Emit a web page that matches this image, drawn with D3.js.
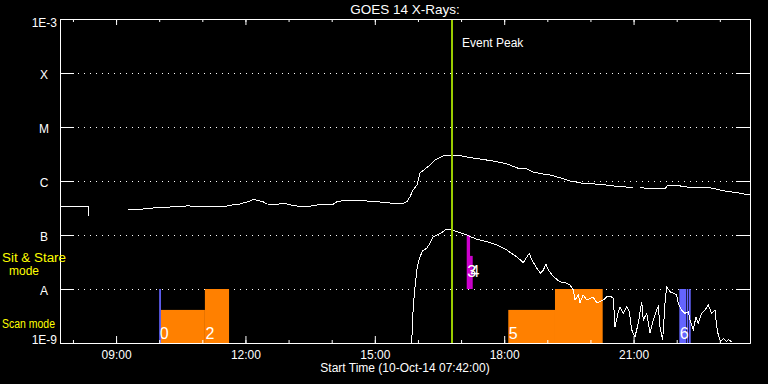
<!DOCTYPE html>
<html>
<head>
<meta charset="utf-8">
<script src="https://cdn.jsdelivr.net/npm/d3@7"></script>
<style>
body { margin: 0; background: #000; }
text { font-family: "Liberation Sans", Arial, sans-serif; fill: #fff; }
</style>
</head>
<body>
<div id="chart"></div>
<script>
// GOES 14 X-ray flux, 10-Oct-2014, hours UT
var levelValues = [1e-9, 1e-8, 1e-7, 1e-6, 1e-5, 1e-4, 1e-3];
var levelLabels = ["1E-9", "A", "B", "C", "M", "X", "1E-3"];

// long channel (1-8 A), null = data gap
var longHours = [7.700, 8.117, 8.349, 8.372, 8.80, 9.277, 9.625, 9.741, 10.251, 10.622, 10.668, 10.738,
  11.178, 11.526, 11.688, 11.874, 12.106, 12.175, 12.407, 12.500, 12.755, 12.848, 12.964, 13.103,
  13.428, 13.660, 14.031, 14.124, 14.309, 14.726, 14.819, 15.190, 15.422, 15.654, 15.746, 15.816,
  15.885, 15.978, 16.048, 16.280, 16.396, 16.581, 16.674, 16.906, 17.138, 17.439, 17.741, 18.065,
  18.367, 18.529, 18.668, 18.900, 19.062, 19.294, 19.526, 19.827, 20.222, 20.685, 20.987, 21.07,
  21.149, 21.451, 21.729, 21.798, 22.007, 22.146, 22.471, 22.772, 23.074, 23.398, 23.700];
var longFlux = [3.44e-7, 3.44e-7, 3.44e-7, 2.25e-7, null, 2.90e-7, 3.03e-7, 3.12e-7, 3.30e-7, 3.44e-7, 3.60e-7, 3.37e-7,
  3.30e-7, 3.37e-7, 3.60e-7, 3.75e-7, 4.26e-7, 4.58e-7, 4.14e-7, 3.75e-7, 3.71e-7, 3.86e-7, 3.75e-7, 3.49e-7,
  3.34e-7, 3.60e-7, 3.71e-7, 4.14e-7, 4.39e-7, 4.39e-7, 4.26e-7, 4.04e-7, 3.86e-7, 3.86e-7, 4.14e-7, 5.12e-7,
  6.81e-7, 8.43e-7, 1.41e-6, 1.98e-6, 2.45e-6, 2.90e-6, 3.03e-6, 3.03e-6, 2.78e-6, 2.55e-6, 2.35e-6, 2.07e-6,
  1.67e-6, 1.67e-6, 1.47e-6, 1.35e-6, 1.29e-6, 1.15e-6, 1.00e-6, 9.06e-7, 8.69e-7, 7.83e-7, 7.64e-7, null,
  7.52e-7, 7.20e-7, 7.11e-7, 8.43e-7, 8.43e-7, 7.83e-7, 7.52e-7, 7.52e-7, 6.61e-7, 6.07e-7, 5.51e-7];

// short channel (0.5-4 A)
var shortHours = [15.855, 15.892, 15.932, 15.985, 16.048, 16.110, 16.203, 16.280, 16.356, 16.435, 16.551, 16.651,
  16.743, 16.859, 16.975, 17.131, 17.362, 17.594, 17.826, 18.058, 18.290, 18.443, 18.505, 18.582,
  18.638, 18.754, 18.847, 18.907, 18.969, 19.023, 19.139, 19.294, 19.450, 19.526, 19.603, 19.642,
  19.719, 19.758, 19.828, 19.920, 20.059, 20.152, 20.298, 20.377, 20.454, 20.530, 20.570, 20.646,
  20.686, 20.762, 20.841, 20.901, 20.957, 21.033, 21.110, 21.189, 21.226, 21.305, 21.381, 21.458,
  21.536, 21.573, 21.613, 21.675, 21.729, 21.768, 21.845, 21.921, 22.000, 22.037, 22.116, 22.192,
  22.269, 22.309, 22.385, 22.448, 22.501, 22.580, 22.656, 22.733, 22.812, 22.888, 22.928, 22.965,
  23.021, 23.081, 23.160, 23.197, 23.275];
var shortFlux = [1.0e-9, 4.70e-9, 1.10e-8, 2.59e-8, 3.96e-8, 5.12e-8, 5.67e-8, 7.02e-8, 9.30e-8, 1.0e-7, 1.10e-7, 1.28e-7,
  1.28e-7, 1.19e-7, 1.10e-7, 1.0e-7, 8.32e-8, 7.52e-8, 6.53e-8, 5.27e-8, 3.96e-8, 3.07e-8, 3.71e-8, 4.58e-8,
  3.55e-8, 2.42e-8, 1.95e-8, 2.25e-8, 2.86e-8, 2.25e-8, 1.69e-8, 1.36e-8, 1.28e-8, 1.19e-8, 9.57e-9, 6.25e-9,
  7.74e-9, 5.51e-9, 7.74e-9, 6.25e-9, 7.11e-9, 5.51e-9, 6.25e-9, 7.20e-9, 7.41e-9, 6.73e-9, 2.00e-9, 3.80e-9,
  4.70e-9, 3.55e-9, 4.70e-9, 3.80e-9, 1.74e-9, 1.31e-9, 2.32e-9, 5.82e-9, 2.67e-9, 3.55e-9, 1.51e-9, 2.67e-9,
  4.08e-9, 4.70e-9, 2.00e-9, 1.14e-9, 5.43e-9, 1.10e-8, 8.91e-9, 8.32e-9, 7.74e-9, 5.43e-9, 4.08e-9, 3.55e-9,
  3.80e-9, 2.67e-9, 1.74e-9, 3.07e-9, 2.32e-9, 3.55e-9, 4.08e-9, 5.06e-9, 3.55e-9, 4.08e-9, 2.00e-9, 1.41e-9,
  1.06e-9, 1.22e-9, 1.06e-9, 1.15e-9, 1.06e-9];

// observing modes
var scanStart = [10.04, 11.06, 18.095, 19.178];
var scanEnd = [11.06, 11.62, 19.178, 20.284];
var scanTop = [4.1e-9, 1e-8, 4.1e-9, 1e-8];
var stareStart = [17.131, 17.208];
var stareEnd = [17.208, 17.270];
var stareTop = [1e-7, 4.1e-8];
var markStart = [10.00, 22.061, 22.232, 22.285];
var markEnd = [10.04, 22.216, 22.269, 22.325];
var segNames = ["0", "2", "3", "4", "5", "6"];
var segHours = [10.00, 11.06, 17.131, 17.208, 18.095, 22.061];
var segBand = ["scan", "scan", "stare", "stare", "scan", "scan"];

var peakHour = 16.79;
var startHour = 7.70, endHour = 23.70;

var svgWidth = 768;
var svgHeight = 384;
var margin = {top: 19, right: 18, bottom: 41, left: 60};
var width = svgWidth - margin.left - margin.right;
var height = svgHeight - margin.top - margin.bottom;

function toDate(h) {
  return new Date(Date.UTC(2014, 9, 10) + h * 3600e3);
}

var root = d3.select("#chart").append("svg")
  .attr("width", svgWidth)
  .attr("height", svgHeight)
  .style("background", "#000");
var svg = root.append("g")
  .attr("transform", "translate(" + margin.left + "," + margin.top + ")");

var x = d3.scaleUtc().domain([toDate(startHour), toDate(endHour)]).range([0, width]);
var y = d3.scaleLog().domain([1e-9, 1e-3]).range([height, 0]);

// dotted level lines
svg.selectAll(".grid")
  .data(levelValues.slice(1, 6))
  .enter().append("line")
  .attr("x1", 18).attr("x2", width - 15)
  .attr("y1", function(d) { return y(d) + 0.5; })
  .attr("y2", function(d) { return y(d) + 0.5; })
  .attr("stroke", "#fff")
  .attr("stroke-dasharray", "1,5");

// mode bars
function bars(starts, ends, tops, bottom, color) {
  svg.append("g").selectAll("rect")
    .data(starts)
    .enter().append("rect")
    .attr("x", function(d) { return x(toDate(d)); })
    .attr("width", function(d, i) { return x(toDate(ends[i])) - x(toDate(d)); })
    .attr("y", function(d, i) { return y(tops[i]); })
    .attr("height", function(d, i) { return y(bottom) - y(tops[i]); })
    .attr("fill", color);
}
bars(scanStart, scanEnd, scanTop, 1e-9, "#ff8000");
bars(stareStart, stareEnd, stareTop, 1e-8, "#cc00cc");
bars(markStart, markEnd, markStart.map(function() { return 1e-8; }), 1e-9, "#6464ff");

// flux curves
var line = d3.line()
  .defined(function(d) { return d[1] != null; })
  .x(function(d) { return x(toDate(d[0])); })
  .y(function(d) { return y(Math.max(d[1], 1e-9)); });

svg.append("path")
  .datum(longHours.map(function(h, i) { return [h, longFlux[i]]; }))
  .attr("d", line)
  .attr("fill", "none")
  .attr("stroke", "#fff")
  .attr("stroke-width", 1)
  .attr("shape-rendering", "crispEdges");

svg.append("path")
  .datum(shortHours.map(function(h, i) { return [h, shortFlux[i]]; }))
  .attr("d", line)
  .attr("fill", "none")
  .attr("stroke", "#fff")
  .attr("stroke-width", 1)
  .attr("shape-rendering", "crispEdges");

// segment numbers
svg.selectAll(".seg")
  .data(segNames)
  .enter().append("text")
  .attr("x", function(d, i) { return x(toDate(segHours[i])) + 0.5; })
  .attr("y", function(d, i) { return segBand[i] == "scan" ? y(1e-9) - 4 : y(1e-8) - 12; })
  .style("font-size", "16px")
  .text(function(d) { return d; });

// event peak
svg.append("line")
  .attr("x1", x(toDate(peakHour))).attr("x2", x(toDate(peakHour)))
  .attr("y1", 0).attr("y2", height)
  .attr("stroke", "#9acd00")
  .attr("stroke-width", 2);
svg.append("text")
  .attr("x", x(toDate(peakHour)) + 10)
  .attr("y", 27.5)
  .style("font-size", "12px")
  .text("Event Peak");

// axes
function styleAxis(g) {
  g.selectAll(".domain").attr("stroke", "#fff");
  g.selectAll(".tick line").attr("stroke", "#fff");
  g.selectAll(".tick text").attr("fill", "#fff").style("font-size", "12px")
    .style("font-family", "'Liberation Sans', Arial, sans-serif");
}

var leftAxis = d3.axisLeft(y)
  .tickValues(levelValues)
  .tickFormat(function(d, i) { return levelLabels[i]; })
  .tickSize(-14).tickSizeOuter(0).tickPadding(3);
var gl = svg.append("g").call(leftAxis).call(styleAxis);
gl.selectAll(".tick text").each(function(d, i) {
  var t = d3.select(this);
  if (i == 0) t.attr("y", -3);
  else if (i == levelValues.length - 1) t.attr("y", 4);
  else t.attr("text-anchor", "middle").attr("x", -16).attr("y", 1.5);
});

var rightAxis = d3.axisRight(y)
  .tickValues(levelValues).tickFormat("")
  .tickSize(-14).tickSizeOuter(0);
svg.append("g").attr("transform", "translate(" + width + ",0)").call(rightAxis).call(styleAxis);

var bottomMinor = d3.axisBottom(x).ticks(d3.utcHour.every(1)).tickFormat("").tickSize(-3).tickSizeOuter(0);
svg.append("g").attr("transform", "translate(0," + height + ")").call(bottomMinor).call(styleAxis);
var bottomAxis = d3.axisBottom(x)
  .ticks(d3.utcHour.every(3))
  .tickFormat(d3.utcFormat("%H:%M"))
  .tickSize(-7).tickSizeOuter(0).tickPadding(7);
svg.append("g").attr("transform", "translate(0," + height + ")").call(bottomAxis).call(styleAxis);

var topMinor = d3.axisTop(x).ticks(d3.utcHour.every(1)).tickFormat("").tickSize(-3).tickSizeOuter(0);
svg.append("g").call(topMinor).call(styleAxis);
var topAxis = d3.axisTop(x).ticks(d3.utcHour.every(3)).tickFormat("").tickSize(-6).tickSizeOuter(0);
svg.append("g").call(topAxis).call(styleAxis);

// titles
svg.append("text")
  .attr("x", width / 2).attr("y", -5)
  .attr("text-anchor", "middle")
  .style("font-size", "13.5px")
  .text("GOES 14 X-Rays:");
svg.append("text")
  .attr("x", width / 2).attr("y", height + 29)
  .attr("text-anchor", "middle")
  .style("font-size", "12px")
  .text("Start Time (10-Oct-14 07:42:00)");

// mode labels
root.append("text").attr("x", 2).attr("y", 262)
  .attr("textLength", 64).attr("lengthAdjust", "spacingAndGlyphs")
  .style("font-size", "12px").style("fill", "#ffff00").text("Sit & Stare");
root.append("text").attr("x", 24).attr("y", 275).attr("text-anchor", "middle")
  .style("font-size", "12px").style("fill", "#ffff00").text("mode");
root.append("text").attr("x", 2).attr("y", 328)
  .attr("textLength", 53).attr("lengthAdjust", "spacingAndGlyphs")
  .style("font-size", "12.5px").style("fill", "#ffff00").text("Scan mode");
</script>
</body>
</html>
